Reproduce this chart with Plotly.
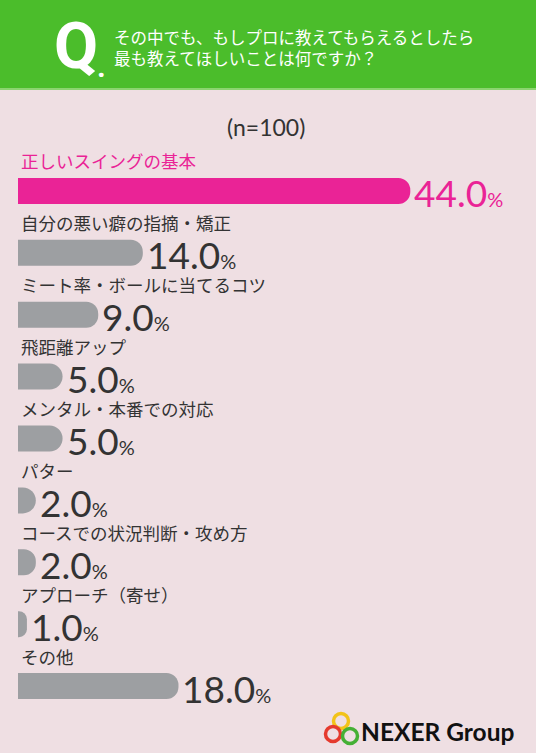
import plotly.graph_objects as go

# survey data (n=100)
categories = ["正しいスイングの基本", "自分の悪い癖の指摘・矯正", "ミート率・ボールに当てるコツ",
              "飛距離アップ", "メンタル・本番での対応", "パター",
              "コースでの状況判断・攻め方", "アプローチ（寄せ）", "その他"]
values = [44.0, 14.0, 9.0, 5.0, 5.0, 2.0, 2.0, 1.0, 18.0]
question = ["その中でも、もしプロに教えてもらえるとしたら", "最も教えてほしいことは何ですか？"]
sample_note = "(n=100)"

PINK = "#EA2396"
GRAY = "#9D9FA2"
BG = "#EFDFE3"
GREEN = "#4BBD2B"
DARK = "#333333"
JP = "Noto Sans CJK JP"
NUM = "Lato"

W, H = 536, 753
TOP, BOTTOM, LEFT = 160, 36, 18
PW, PH = W - LEFT, H - TOP - BOTTOM


def px_x(px):
    # page pixel x -> paper x
    return (px - LEFT) / PW


def px_y(py):
    # page pixel y -> paper y
    return 1 + (TOP - py) / PH


colors = [PINK if i == 0 else GRAY for i in range(len(values))]
ypos = list(range(len(categories)))

fig = go.Figure()
fig.add_trace(go.Bar(x=values, y=ypos, orientation="h",
                     marker=dict(color=colors, line_width=0, cornerradius=13),
                     width=0.42, hoverinfo="skip"))

# label above each bar, value to the right of it
for i, (cat, val) in enumerate(zip(categories, values)):
    c = PINK if i == 0 else DARK
    fig.add_annotation(x=0, y=i, text=cat, showarrow=False, xanchor="left", yanchor="middle",
                       xshift=1, yshift=30, font=dict(family=JP, size=17.5, color=c))
    fig.add_annotation(x=val, y=i, text=f"{val:.1f}<span style='font-size:20px'>%</span>", showarrow=False,
                       xanchor="left", yanchor="middle", xshift=2, yshift=-2,
                       font=dict(family=NUM, size=37, color=c))

# header band
fig.add_shape(type="rect", xref="paper", yref="paper", x0=px_x(0), x1=px_x(W),
              y0=px_y(88), y1=px_y(0), fillcolor=GREEN, line_width=0, layer="below")
fig.add_shape(type="line", xref="paper", yref="paper", x0=px_x(0), x1=px_x(W),
              y0=px_y(89), y1=px_y(89), line=dict(color="#8CD470", width=2))

fig.add_annotation(xref="paper", yref="paper", x=px_x(52), y=px_y(47), text="<b>Q</b>", showarrow=False,
                   xanchor="left", yanchor="middle", font=dict(family="Roboto", size=64, color="white"))
fig.add_annotation(xref="paper", yref="paper", x=px_x(95), y=px_y(67), text="<b>.</b>", showarrow=False,
                   xanchor="left", yanchor="middle", font=dict(family="Roboto", size=30, color="white"))
fig.add_annotation(xref="paper", yref="paper", x=px_x(112), y=px_y(48), text="<br>".join(question),
                   showarrow=False, xanchor="left", yanchor="middle", align="left",
                   font=dict(family=JP, size=16.5, color="white"))
fig.add_annotation(xref="paper", yref="paper", x=px_x(266), y=px_y(127), text=sample_note, showarrow=False,
                   xanchor="center", yanchor="middle", font=dict(family=NUM, size=23, color=DARK))

# NEXER Group logo
for cx, cy, col in [(341, 721, "#F2C318"), (333, 734, "#E53A2E"), (350, 736, "#45B035")]:
    r = 7.5
    fig.add_shape(type="circle", xref="paper", yref="paper", x0=px_x(cx - r), x1=px_x(cx + r),
                  y0=px_y(cy + r), y1=px_y(cy - r), line=dict(color=col, width=3.5))
fig.add_annotation(xref="paper", yref="paper", x=px_x(359), y=px_y(731), text="<b>NEXER Group</b>",
                   showarrow=False, xanchor="left", yanchor="middle",
                   font=dict(family="Lato", size=24.5, color="#111111"))

fig.update_layout(
    width=W, height=H,
    margin=dict(l=LEFT, r=0, t=TOP, b=BOTTOM),
    paper_bgcolor=BG, plot_bgcolor=BG,
    showlegend=False,
    xaxis=dict(range=[0, 58.1], visible=False, fixedrange=True),
    yaxis=dict(range=[8.5, -0.5], visible=False, fixedrange=True),
)

fig.write_html("out.html", config={"displayModeBar": False},
               post_script="document.body.style.margin='0px';")
